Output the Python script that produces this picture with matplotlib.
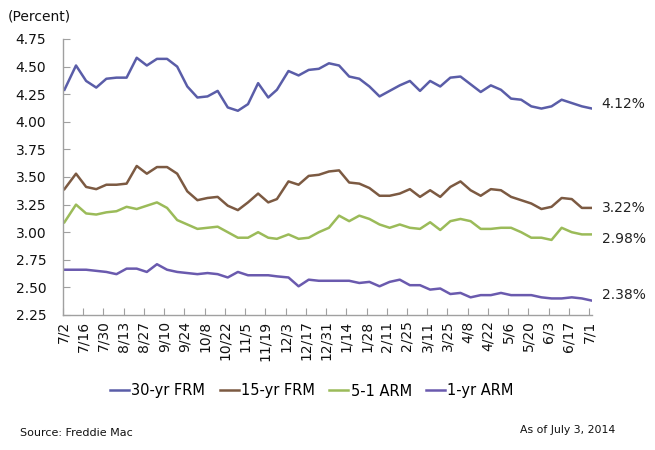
import matplotlib
matplotlib.use("Agg")
import matplotlib.pyplot as plt
import pandas as pd

dates = ["2013-07-03", "2013-07-11", "2013-07-18", "2013-07-25", "2013-08-01", "2013-08-08",
         "2013-08-15", "2013-08-22", "2013-08-29", "2013-09-05", "2013-09-12", "2013-09-19",
         "2013-09-26", "2013-10-03", "2013-10-10", "2013-10-17", "2013-10-24", "2013-10-31",
         "2013-11-07", "2013-11-14", "2013-11-21", "2013-11-27", "2013-12-05", "2013-12-12",
         "2013-12-19", "2013-12-26",
         "2014-01-02", "2014-01-09", "2014-01-16", "2014-01-23", "2014-01-30", "2014-02-06",
         "2014-02-13", "2014-02-20", "2014-02-27", "2014-03-06", "2014-03-13", "2014-03-20",
         "2014-03-27", "2014-04-03", "2014-04-10", "2014-04-17", "2014-04-24", "2014-05-01",
         "2014-05-08", "2014-05-15", "2014-05-22", "2014-05-29", "2014-06-05", "2014-06-12",
         "2014-06-19", "2014-06-26", "2014-07-03"]

frm30 = [4.29, 4.51, 4.37, 4.31, 4.39, 4.40, 4.40, 4.58, 4.51, 4.57, 4.57, 4.50, 4.32,
         4.22, 4.23, 4.28, 4.13, 4.10, 4.16, 4.35, 4.22, 4.29, 4.46, 4.42, 4.47, 4.48,
         4.53, 4.51, 4.41, 4.39, 4.32, 4.23, 4.28, 4.33, 4.37, 4.28, 4.37, 4.32, 4.40,
         4.41, 4.34, 4.27, 4.33, 4.29, 4.21, 4.20, 4.14, 4.12, 4.14, 4.20, 4.17, 4.14, 4.12]
frm15 = [3.39, 3.53, 3.41, 3.39, 3.43, 3.43, 3.44, 3.60, 3.53, 3.59, 3.59, 3.53, 3.37,
         3.29, 3.31, 3.32, 3.24, 3.20, 3.27, 3.35, 3.27, 3.30, 3.46, 3.43, 3.51, 3.52,
         3.55, 3.56, 3.45, 3.44, 3.40, 3.33, 3.33, 3.35, 3.39, 3.32, 3.38, 3.32, 3.41,
         3.46, 3.38, 3.33, 3.39, 3.38, 3.32, 3.29, 3.26, 3.21, 3.23, 3.31, 3.30, 3.22, 3.22]
arm51 = [3.09, 3.25, 3.17, 3.16, 3.18, 3.19, 3.23, 3.21, 3.24, 3.27, 3.22, 3.11, 3.07,
         3.03, 3.04, 3.05, 3.00, 2.95, 2.95, 3.00, 2.95, 2.94, 2.98, 2.94, 2.95, 3.00,
         3.04, 3.15, 3.10, 3.15, 3.12, 3.07, 3.04, 3.07, 3.04, 3.03, 3.09, 3.02, 3.10,
         3.12, 3.10, 3.03, 3.03, 3.04, 3.04, 3.00, 2.95, 2.95, 2.93, 3.04, 3.00, 2.98, 2.98]
arm1 = [2.66, 2.66, 2.66, 2.65, 2.64, 2.62, 2.67, 2.67, 2.64, 2.71, 2.66, 2.64, 2.63,
        2.62, 2.63, 2.62, 2.59, 2.64, 2.61, 2.61, 2.61, 2.60, 2.59, 2.51, 2.57, 2.56,
        2.56, 2.56, 2.56, 2.54, 2.55, 2.51, 2.55, 2.57, 2.52, 2.52, 2.48, 2.49, 2.44,
        2.45, 2.41, 2.43, 2.43, 2.45, 2.43, 2.43, 2.43, 2.41, 2.40, 2.40, 2.41, 2.40, 2.38]

series_names = ["30-yr FRM", "15-yr FRM", "5-1 ARM", "1-yr ARM"]
end_labels = ["4.12%", "3.22%", "2.98%", "2.38%"]
tick_labels = ["7/2", "7/16", "7/30", "8/13", "8/27", "9/10", "9/24", "10/8", "10/22",
               "11/5", "11/19", "12/3", "12/17", "12/31", "1/14", "1/28", "2/11", "2/25",
               "3/11", "3/25", "4/8", "4/22", "5/6", "5/20", "6/3", "6/17", "7/1"]
y_ticks = [2.25, 2.50, 2.75, 3.00, 3.25, 3.50, 3.75, 4.00, 4.25, 4.50, 4.75]

colors = ["#5A5DA8", "#7C5A42", "#9BBB59", "#6A5AAE"]
label_offsets = [3.5, 0, -3.5, 4.0]   # points, vertical nudges for end labels

x = pd.to_datetime(dates)
tick_pos = pd.date_range("2013-07-02", periods=len(tick_labels), freq="14D")

fig = plt.figure(figsize=(6.55, 4.5), dpi=100)
ax = fig.add_axes([63 / 655, 1 - 315 / 450, (592 - 63) / 655, (315 - 39) / 450])

all_series = [frm30, frm15, arm51, arm1]
handles = []
for vals, name, col, lab, dy in zip(all_series, series_names, colors, end_labels, label_offsets):
    h, = ax.plot(x, vals, color=col, lw=1.8, label=name, solid_joinstyle="round")
    handles.append(h)
    ax.annotate(lab, xy=(x[-1], vals[-1]), xytext=(7, dy), textcoords="offset points",
                ha="left", va="center", fontsize=10, color="#222222", annotation_clip=False)

ax.set_xlim(pd.Timestamp("2013-07-02"), pd.Timestamp("2014-07-03"))
ax.set_ylim(2.25, 4.75)
ax.set_yticks(y_ticks)
ax.set_yticklabels([f"{v:.2f}" for v in y_ticks])
ax.set_xticks(tick_pos)
ax.set_xticklabels(tick_labels, rotation=90, ha="center", va="top")

for s in ["top", "right"]:
    ax.spines[s].set_visible(False)
for s in ["left", "bottom"]:
    ax.spines[s].set_color("#A0A0A0")
    ax.spines[s].set_linewidth(1.0)
ax.tick_params(axis="both", direction="in", length=5, color="#A0A0A0", labelsize=10,
               labelcolor="#111111")
ax.tick_params(axis="y", pad=12)
ax.tick_params(axis="x", pad=4)

fig.text(8 / 655, 1 - 17 / 450, "(Percent)", fontsize=10, ha="left", va="center",
         color="#111111")

fig.legend(handles=handles, labels=series_names, loc="center", ncol=4,
           bbox_to_anchor=(312 / 655, 1 - 391 / 450), frameon=False, fontsize=10.5,
           handlelength=1.3, handletextpad=0.15, columnspacing=1.0)

fig.text(20 / 655, 1 - 433 / 450, "Source: Freddie Mac", fontsize=8, ha="left",
         va="center", color="#111111")
fig.text(615 / 655, 1 - 430 / 450, "As of July 3, 2014", fontsize=7.8, ha="right",
         va="center", color="#111111")

fig.savefig("out.png", dpi=100)
